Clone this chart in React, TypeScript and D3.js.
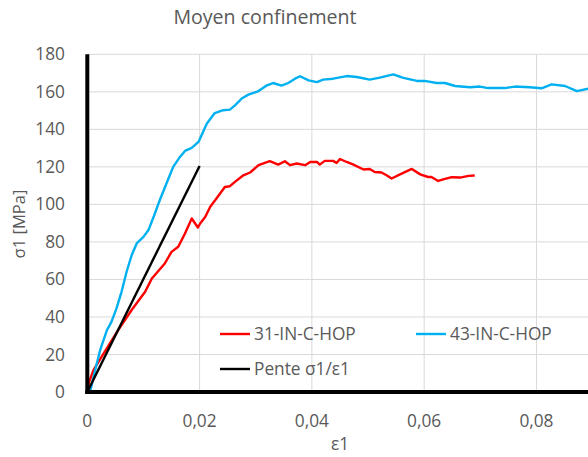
import React from "react";
import * as d3 from "d3";

const xTicks = [0, 0.02, 0.04, 0.06, 0.08];
const yTicks = [0, 20, 40, 60, 80, 100, 120, 140, 160, 180];

const seriesNames = ["31-IN-C-HOP", "43-IN-C-HOP", "Pente σ1/ε1"];
const seriesColors = ["#FF0000", "#00B0F0", "#000000"];

const redX = [0, 0.0004, 0.0011, 0.003, 0.0055, 0.0079, 0.0103, 0.0115, 0.0138, 0.015, 0.0162, 0.0174, 0.0186, 0.0197, 0.0201, 0.021, 0.0219, 0.023, 0.0245, 0.0254, 0.0263, 0.0278, 0.029, 0.0305, 0.0325, 0.034, 0.0352, 0.0361, 0.0373, 0.0388, 0.0397, 0.0409, 0.0414, 0.0423, 0.0438, 0.0444, 0.045, 0.0462, 0.0474, 0.0492, 0.0503, 0.0512, 0.0524, 0.0533, 0.0542, 0.0557, 0.0578, 0.0593, 0.0607, 0.0613, 0.0625, 0.0634, 0.0649, 0.0664, 0.0679, 0.069];
const redY = [2, 6, 11.7, 21, 33, 43.7, 53.4, 60.5, 68.5, 74.7, 77.4, 84.5, 92.5, 87.7, 89.8, 93.3, 98.7, 103.1, 109.3, 109.7, 112, 115.5, 117, 120.9, 123, 121.2, 123, 120.9, 121.8, 120.9, 122.6, 122.6, 121.2, 123.2, 123.2, 122.1, 124.2, 122.6, 121.2, 118.6, 118.9, 117.3, 117, 115.5, 113.8, 116, 118.9, 116, 114.6, 114.6, 112.5, 113.3, 114.5, 114.3, 115.2, 115.4];

const blueX = [0.0005, 0.0014, 0.0023, 0.0035, 0.0043, 0.0052, 0.0061, 0.007, 0.0079, 0.0088, 0.01, 0.0109, 0.0118, 0.0129, 0.0141, 0.0153, 0.0165, 0.0174, 0.0186, 0.0198, 0.0213, 0.0227, 0.0242, 0.0254, 0.0263, 0.0275, 0.0287, 0.0305, 0.032, 0.0331, 0.0346, 0.0358, 0.037, 0.0379, 0.0394, 0.0409, 0.042, 0.0438, 0.0462, 0.048, 0.0503, 0.0521, 0.0545, 0.0563, 0.0587, 0.0601, 0.0622, 0.0637, 0.0655, 0.0682, 0.0699, 0.0714, 0.0744, 0.0762, 0.0788, 0.0809, 0.0827, 0.0851, 0.0872, 0.0892];
const blueY = [0, 11.7, 22.4, 33, 37.4, 44.6, 53.4, 64.1, 72.9, 79.2, 82.7, 86.3, 93.3, 102.2, 111.1, 120, 125.3, 128.5, 130.1, 133.3, 143.1, 148.7, 150.2, 150.5, 152.8, 156.4, 158.5, 160.4, 163.5, 164.7, 163.3, 164.7, 167, 168.3, 166.1, 165.2, 166.5, 167, 168.4, 167.9, 166.5, 167.6, 169.3, 167.4, 165.8, 165.8, 164.7, 164.7, 163.1, 162.4, 162.8, 162, 162, 162.8, 162.4, 161.9, 164, 163.1, 160.4, 161.7];

const slopeX = [0, 0.02];
const slopeY = [0, 120.5];

const W = 588;
const H = 457;
const FONT = "'Open Sans', 'Noto Sans', sans-serif";
const GREY = "#595959";
const FS = 17.3;

export default function App() {
  const x = d3.scaleLinear().domain([0, 0.09]).range([87.3, 592.6]);
  const y = d3.scaleLinear().domain([0, 180]).range([392, 54.3]);
  const fmtX = (v: number) => (v === 0 ? "0" : d3.format(".2f")(v).replace(".", ","));

  const line = d3
    .line<[number, number]>()
    .x((d) => x(d[0]))
    .y((d) => y(d[1]));

  const series = [
    redX.map((v, i) => [v, redY[i]] as [number, number]),
    blueX.map((v, i) => [v, blueY[i]] as [number, number]),
    slopeX.map((v, i) => [v, slopeY[i]] as [number, number]),
  ];

  return (
    <svg
      width={W}
      height={H}
      style={{ position: "absolute", left: 0, top: 0, background: "#fff", fontFamily: FONT }}
    >
      <rect x={0} y={0} width={W} height={H} fill="#fff" />
      <text x={265} y={24} textAnchor="middle" fontSize={19.6} fill={GREY}>
        Moyen confinement
      </text>
      {/* grid */}
      {yTicks.map((t) => (
        <line key={"gy" + t} x1={x(0)} x2={W} y1={y(t)} y2={y(t)} stroke="#d9d9d9" strokeWidth={1} />
      ))}
      {xTicks.filter((t) => t > 0).map((t) => (
        <line key={"gx" + t} x1={x(t)} x2={x(t)} y1={y(180)} y2={y(0)} stroke="#d9d9d9" strokeWidth={1} />
      ))}
      {/* y tick labels */}
      {yTicks.map((t) => (
        <text key={"ty" + t} x={65} y={y(t)} dy="0.35em" textAnchor="end" fontSize={FS} fill={GREY}>
          {t}
        </text>
      ))}
      {xTicks.map((t) => (
        <text key={"tx" + t} x={x(t)} y={421} dy="0.35em" textAnchor="middle" fontSize={FS} fill={GREY}>
          {fmtX(t)}
        </text>
      ))}
      <text x={340} y={444} dy="0.35em" textAnchor="middle" fontSize={FS} fill={GREY}>
        ε1
      </text>
      <text
        transform={`translate(19,224) rotate(-90)`}
        dy="0.35em"
        textAnchor="middle"
        fontSize={16.6}
        fill={GREY}
      >
        σ1 [MPa]
      </text>
      {/* data lines */}
      {series.map((s, i) => (
        <path
          key={"s" + i}
          d={line(s) || ""}
          fill="none"
          stroke={seriesColors[i]}
          strokeWidth={2.4}
          strokeLinejoin="round"
        />
      ))}
      {/* axes */}
      <line x1={x(0)} x2={x(0)} y1={y(180)} y2={y(0) + 2} stroke="#000" strokeWidth={4} />
      <line x1={x(0) - 2} x2={W} y1={y(0)} y2={y(0)} stroke="#000" strokeWidth={4} />
      {/* legend */}
      {[
        { i: 0, lx: 220, ly: 334 },
        { i: 1, lx: 416, ly: 334 },
        { i: 2, lx: 220, ly: 369 },
      ].map(({ i, lx, ly }) => (
        <g key={"lg" + i}>
          <line x1={lx} x2={lx + 30} y1={ly} y2={ly} stroke={seriesColors[i]} strokeWidth={2.4} />
          <text x={lx + 34} y={ly} dy="0.35em" fontSize={FS} fill={GREY}>
            {seriesNames[i]}
          </text>
        </g>
      ))}
    </svg>
  );
}
